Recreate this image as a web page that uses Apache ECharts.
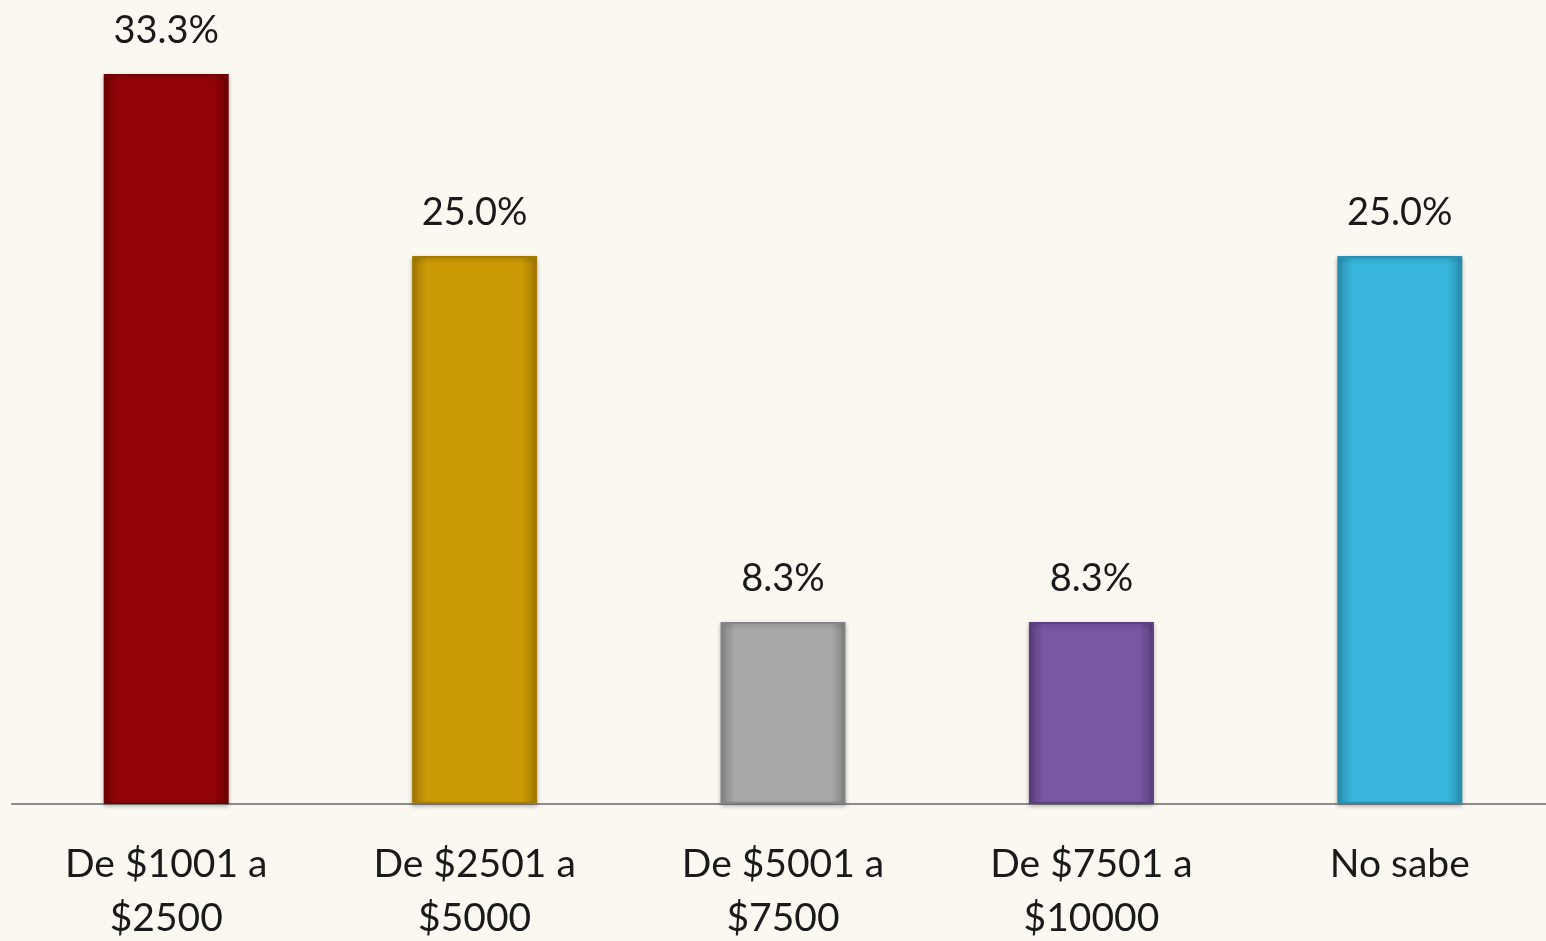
<!DOCTYPE html>
<html>
<head>
<meta charset="utf-8">
<script src="https://cdn.jsdelivr.net/npm/echarts@6/dist/echarts.min.js"></script>
<style>
  html, body { margin: 0; padding: 0; background: #fbf8f2; }
  #main { width: 1546px; height: 941px; }
</style>
</head>
<body>
<div id="main"></div>
<script>
  const categories = ['De $1001 a\n$2500', 'De $2501 a\n$5000', 'De $5001 a\n$7500', 'De $7501 a\n$10000', 'No sabe'];
  const values = [33.3, 25.0, 8.3, 8.3, 25.0];
  // base, dark edge
  const barColors = [
    ['#920407', '#6e0204'],
    ['#cc9a06', '#a37a04'],
    ['#a9a9a9', '#858585'],
    ['#7a57a3', '#5c3f80'],
    ['#38b6dc', '#2a8fb0']
  ];

  const chart = echarts.init(document.getElementById('main'));

  function bevel(c) {
    return new echarts.graphic.LinearGradient(0, 0, 1, 0, [
      { offset: 0, color: c[1] },
      { offset: 0.12, color: c[0] },
      { offset: 0.88, color: c[0] },
      { offset: 1, color: c[1] }
    ]);
  }

  const option = {
    backgroundColor: '#fbf8f2',
    animation: false,
    grid: { left: 12, width: 1542, top: 0, bottom: 137, outerBoundsMode: 'none', containLabel: false },
    xAxis: {
      type: 'category',
      data: categories,
      axisLine: { show: true, lineStyle: { color: '#8c8c8c', width: 2 } },
      axisTick: { show: false },
      axisLabel: {
        interval: 0,
        margin: 33,
        color: '#1a1a1a',
        fontFamily: 'Lato',
        fontSize: 39,
        lineHeight: 54
      }
    },
    yAxis: {
      type: 'value',
      min: 0,
      max: 36.68,
      show: false,
      splitLine: { show: false }
    },
    series: [{
      type: 'bar',
      barWidth: 125,
      data: values.map((v, i) => ({
        value: v,
        itemStyle: {
          color: bevel(barColors[i]),
          borderColor: barColors[i][1],
          borderWidth: 2,
          shadowColor: 'rgba(0,0,0,0.25)',
          shadowBlur: 4,
          shadowOffsetY: 2
        }
      })),
      label: {
        show: true,
        position: 'top',
        distance: 24,
        formatter: p => p.value.toFixed(1) + '%',
        color: '#1a1a1a',
        fontFamily: 'Lato',
        fontSize: 38
      }
    }]
  };

  chart.setOption(option);
</script>
</body>
</html>
